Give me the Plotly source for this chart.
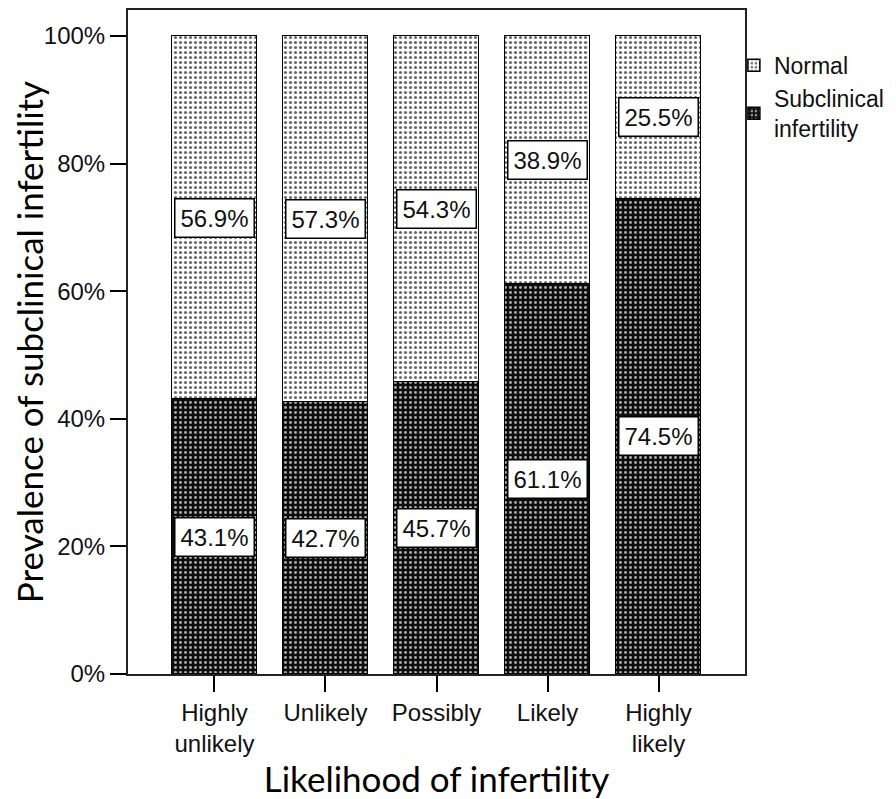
import plotly.graph_objects as go

categories = ["Highly unlikely", "Unlikely", "Possibly", "Likely", "Highly likely"]
tick_labels = ["Highly<br>unlikely", "Unlikely", "Possibly", "Likely", "Highly<br>likely"]
subclinical = [43.1, 42.7, 45.7, 61.1, 74.5]
normal = [56.9, 57.3, 54.3, 38.9, 25.5]
y_ticks = [0, 20, 40, 60, 80, 100]

ARIAL = "Liberation Sans, Arial, sans-serif"
TITLE_FONT = "Lato, Calibri, sans-serif"

x_idx = list(range(len(categories)))

fig = go.Figure()
fig.add_trace(go.Bar(
    x=x_idx, y=subclinical, name="Subclinical<br>infertility", width=0.766,
    marker=dict(color="#0d0d0d", line=dict(color="black", width=1.5),
                pattern=dict(shape=".", fgcolor="#a8a8a8", bgcolor="#0d0d0d",
                             size=5, solidity=0.28, fillmode="replace")),
    hoverinfo="skip",
))
fig.add_trace(go.Bar(
    x=x_idx, y=normal, name="Normal", width=0.766,
    marker=dict(color="white", line=dict(color="black", width=1.5),
                pattern=dict(shape=".", fgcolor="#6a6a6a", bgcolor="white",
                             size=5, solidity=0.32, fillmode="replace")),
    hoverinfo="skip",
))

for i, (s, n) in enumerate(zip(subclinical, normal)):
    for val, mid in ((s, s / 2), (n, s + n / 2)):
        fig.add_annotation(
            x=i, y=mid, xref="x", yref="y", text=f"{val:.1f}%", showarrow=False,
            font=dict(family=ARIAL, size=24, color="#111"),
            bgcolor="white", bordercolor="black", borderwidth=1.5, borderpad=5,
        )

fig.update_layout(
    barmode="stack",
    width=888, height=791,
    margin=dict(l=120, r=151, t=2, b=125),
    plot_bgcolor="white", paper_bgcolor="white",
    bargap=0,
    showlegend=True,
    legend=dict(x=0.982, xanchor="left", y=0.949, yanchor="top",
                traceorder="reversed", font=dict(family=ARIAL, size=23, color="#111"),
                itemwidth=30, tracegroupgap=4, bgcolor="rgba(0,0,0,0)"),
    xaxis=dict(
        range=[-0.779, 4.779], tickmode="array", tickvals=x_idx, ticktext=tick_labels,
        ticks="outside", ticklen=16, tickwidth=1.5, tickcolor="black",
        showline=True, linecolor="#222", linewidth=2, mirror=True,
        showgrid=False, zeroline=False,
        tickfont=dict(family=ARIAL, size=24, color="#111"),
        title=dict(text="Likelihood of infertility",
                   font=dict(family=TITLE_FONT, size=35, color="black"), standoff=16),
        automargin=False,
    ),
    yaxis=dict(
        range=[0, 104.08], tickmode="array", tickvals=y_ticks,
        ticktext=[f"{v}%" for v in y_ticks],
        ticks="outside", ticklen=16, tickwidth=1.5, tickcolor="black",
        showline=True, linecolor="#222", linewidth=2, mirror=True,
        showgrid=False, zeroline=False,
        tickfont=dict(family=ARIAL, size=24, color="#111"),
        title=dict(text="Prevalence of subclinical infertility",
                   font=dict(family=TITLE_FONT, size=35, color="black"), standoff=12),
        automargin=False,
    ),
)

fig.write_html("out.html")
